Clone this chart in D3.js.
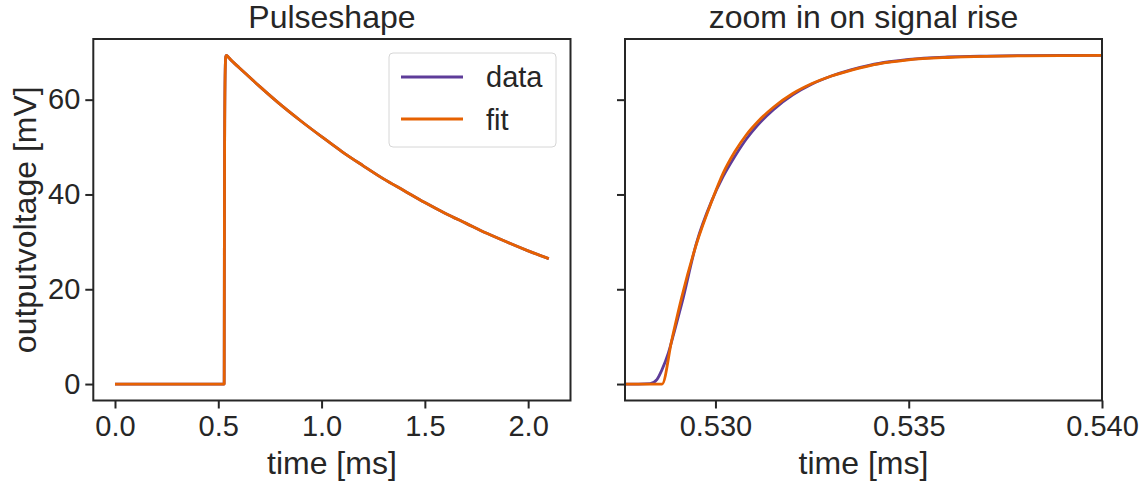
<!DOCTYPE html>
<html>
<head>
<meta charset="utf-8">
<script src="https://cdn.jsdelivr.net/npm/d3@7"></script>
<style>
	body { margin: 0; background: #fff; }
	svg text { font-family: "Liberation Sans", Arial, sans-serif; fill: #262626; }
	.axis path, .axis line { stroke: #262626; stroke-width: 2px; }
	.axis text { font-size: 29px; }
</style>
</head>
<body>
<svg id="chart" width="1147" height="484"></svg>
<script>
// measured pulse (data) and fitted pulse (fit), time in ms, voltage in mV
const tData = [0, 0.25, 0.5, 0.5276, 0.528, 0.52831, 0.52849, 0.52861, 0.52878, 0.52895, 0.52913,
	0.52951, 0.5299, 0.5302, 0.5305, 0.5308, 0.5311, 0.5315, 0.532, 0.5325, 0.533, 0.5335,
	0.534, 0.5345, 0.535, 0.536, 0.537, 0.538, 0.539, 0.54,
	0.55, 0.57, 0.6, 0.7, 0.8, 0.9, 1.0, 1.1, 1.2, 1.3, 1.4, 1.5, 1.6, 1.7, 1.8, 1.9, 2.0, 2.1];
const vData = [0, 0, 0, 0, 0, 0.1, 1.0, 2.9, 6.5, 11.5, 17.0,
	29.8, 38.6, 43.8, 48.0, 51.7, 54.7, 57.9, 61.0, 63.3, 65.0, 66.3,
	67.3, 68.0, 68.5, 69.0, 69.2, 69.3, 69.35, 69.35,
	68.9, 68.0, 66.8, 62.8, 59.0, 55.5, 52.2, 49.0, 46.1, 43.3, 40.8, 38.3, 36.0, 33.9, 31.8, 29.9, 28.1, 26.45];

const tFit = [0, 0.25, 0.5, 0.5276, 0.528, 0.52862, 0.52887, 0.52913, 0.52951, 0.5299, 0.5302,
	0.5305, 0.5308, 0.5311, 0.5315, 0.532, 0.5325, 0.533, 0.5335, 0.534, 0.5345, 0.535,
	0.536, 0.537, 0.538, 0.539, 0.54,
	0.55, 0.57, 0.6, 0.7, 0.8, 0.9, 1.0, 1.1, 1.2, 1.3, 1.4, 1.5, 1.6, 1.7, 1.8, 1.9, 2.0, 2.1];
const vFit = [0, 0, 0, 0, 0, 0, 9.3, 18.4, 29.6, 38.5, 44.5,
	49.0, 52.6, 55.4, 58.4, 61.3, 63.4, 65.0, 66.2, 67.2, 67.9, 68.4,
	68.9, 69.15, 69.25, 69.3, 69.33,
	68.9, 68.0, 66.8, 62.8, 59.0, 55.5, 52.2, 49.0, 46.1, 43.3, 40.8, 38.3, 36.0, 33.9, 31.8, 29.9, 28.1, 26.45];

const yTicks = [0, 20, 40, 60];
const xTicksLeft = [0, 0.5, 1.0, 1.5, 2.0];
const xTicksRight = [0.53, 0.535, 0.54];
const seriesNames = ["data", "fit"];
const colors = ["#5e3c99", "#e66101"];

const svg = d3.select("#chart");
const plotTop = 39, plotBottom = 400.5;

const y = d3.scaleLinear().domain([-3.47, 72.8]).range([plotBottom, plotTop]);

const panels = [
	{ x0: 93.3, x1: 570.5, domain: [-0.105, 2.205], ticks: xTicksLeft, fmt: d3.format(".1f"), title: "Pulseshape", labels: true },
	{ x0: 625, x1: 1102, domain: [0.52766, 0.54], ticks: xTicksRight, fmt: d3.format(".3f"), title: "zoom in on signal rise", labels: false },
];

const series = [
	tData.map((t, i) => [t, vData[i]]),
	tFit.map((t, i) => [t, vFit[i]]),
];

panels.forEach((p, k) => {
	const x = d3.scaleLinear().domain(p.domain).range([p.x0, p.x1]);

	svg.append("clipPath")
		.attr("id", "clip" + k)
		.append("rect")
		.attr("x", p.x0)
		.attr("y", plotTop)
		.attr("width", p.x1 - p.x0)
		.attr("height", plotBottom - plotTop);

	const line = d3.line()
		.x((d) => x(d[0]))
		.y((d) => y(d[1]))
		.curve(d3.curveMonotoneX);

	svg.append("g")
		.attr("clip-path", `url(#clip${k})`)
		.selectAll("path")
		.data(series)
		.enter()
		.append("path")
		.attr("d", line)
		.attr("fill", "none")
		.attr("stroke", (d, i) => colors[i])
		.attr("stroke-width", 2.8)
		.attr("stroke-linejoin", "round");

	// frame
	svg.append("rect")
		.attr("x", p.x0)
		.attr("y", plotTop)
		.attr("width", p.x1 - p.x0)
		.attr("height", plotBottom - plotTop)
		.attr("fill", "none")
		.attr("stroke", "#262626")
		.attr("stroke-width", 2);

	svg.append("g")
		.attr("class", "axis")
		.attr("transform", `translate(0,${plotBottom})`)
		.call(d3.axisBottom(x).tickValues(p.ticks).tickFormat(p.fmt).tickSize(8).tickPadding(7))
		.call((g) => g.select(".domain").remove());

	const yAxis = d3.axisLeft(y).tickValues(yTicks).tickSize(8).tickPadding(5);
	if (!p.labels) yAxis.tickFormat("");
	svg.append("g")
		.attr("class", "axis")
		.attr("transform", `translate(${p.x0},0)`)
		.call(yAxis)
		.call((g) => g.select(".domain").remove());

	svg.append("text")
		.attr("x", (p.x0 + p.x1) / 2)
		.attr("y", 28)
		.attr("text-anchor", "middle")
		.style("font-size", "32px")
		.text(p.title);

	svg.append("text")
		.attr("x", (p.x0 + p.x1) / 2)
		.attr("y", 474)
		.attr("text-anchor", "middle")
		.style("font-size", "32px")
		.text("time [ms]");
});

svg.append("text")
	.attr("transform", `translate(36,${(plotTop + plotBottom) / 2}) rotate(-90)`)
	.attr("text-anchor", "middle")
	.style("font-size", "32px")
	.text("outputvoltage [mV]");

// legend
const legend = svg.append("g");
legend.append("rect")
	.attr("x", 389)
	.attr("y", 53)
	.attr("width", 167)
	.attr("height", 94)
	.attr("rx", 4)
	.attr("fill", "#fff")
	.attr("fill-opacity", 0.8)
	.attr("stroke", "#d6d6d6")
	.attr("stroke-width", 1);

seriesNames.forEach((name, i) => {
	legend.append("line")
		.attr("x1", 401)
		.attr("x2", 463)
		.attr("y1", 77 + i * 42)
		.attr("y2", 77 + i * 42)
		.attr("stroke", colors[i])
		.attr("stroke-width", 2.8);
	legend.append("text")
		.attr("x", 486)
		.attr("y", 87 + i * 43)
		.style("font-size", "29px")
		.text(name);
});
</script>
</body>
</html>
